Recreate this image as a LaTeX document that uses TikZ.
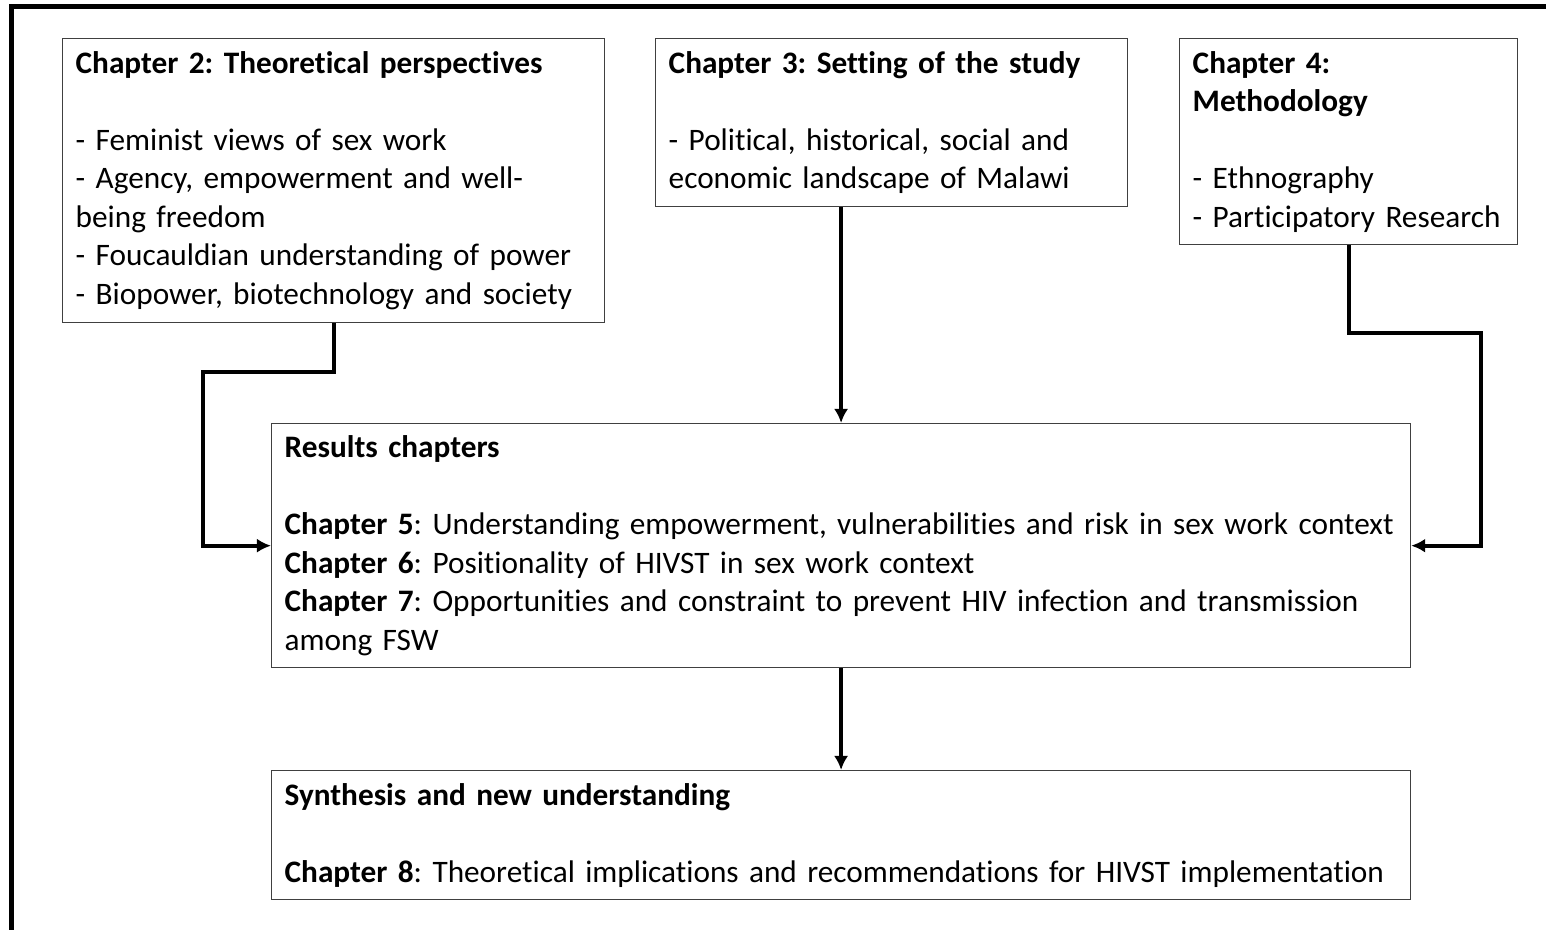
\documentclass[tikz,border=0pt]{standalone}
\usepackage{fontspec}
\setmainfont{Carlito}[Ligatures=NoCommon]
\usetikzlibrary{arrows.meta,positioning}
\tikzset{
  chapbox/.style={draw=black!75, line width=0.8pt, anchor=north west, align=left,
    inner xsep=0.26cm, inner ysep=0pt, font=\fontsize{17.8}{21.9}\selectfont\frenchspacing},
  link/.style={line width=2.3pt, -{Latex[length=8pt,width=8pt]}}
}
\begin{document}
\begin{tikzpicture}[x=0.02cm,y=-0.02cm]
\useasboundingbox (0,0) rectangle (1546,930);
\draw[line width=2.6pt] (11.5,930) -- (11.5,6.5) -- (1546,6.5);

\node[chapbox, text width=10.32cm, minimum height=5.68cm] (ch2) at (62,38)
  {\textbf{Chapter 2: Theoretical perspectives}\\[21.9pt]
   - Feminist views of sex work\\
   - Agency, empowerment and well-\\
   being freedom\\
   - Foucauldian understanding of power\\
   - Biopower, biotechnology and society};
\node[chapbox, text width=8.92cm, minimum height=3.36cm] (ch3) at (655,38)
  {\textbf{Chapter 3: Setting of the study}\\[21.9pt]
   - Political, historical, social and\\
   economic landscape of Malawi};
\node[chapbox, text width=6.24cm, minimum height=4.12cm] (ch4) at (1179,38)
  {\textbf{Chapter 4:}\\
   \textbf{Methodology}\\[21.9pt]
   - Ethnography\\
   - Participatory Research};
\node[chapbox, text width=22.26cm, minimum height=4.88cm] (results) at (271,423)
  {\textbf{Results chapters}\\[21.9pt]
   \textbf{Chapter 5}: Understanding empowerment, vulnerabilities and risk in sex work context\\
   \textbf{Chapter 6}: Positionality of HIVST in sex work context\\
   \textbf{Chapter 7}: Opportunities and constraint to prevent HIV infection and transmission\\
   among FSW};
\node[chapbox, text width=22.26cm, minimum height=2.58cm] (synth) at (271,770)
  {\textbf{Synthesis and new understanding}\\[21.9pt]
   \textbf{Chapter 8}: Theoretical implications and recommendations for HIVST implementation};

\coordinate (bendL) at (203,372);
\coordinate (bendR) at (1481,333);
\draw[link] (ch2.south) |- (bendL) |- (results.west);
\draw[link] (ch3.south -| results.north) -- (results.north);
\draw[link] (ch4.south) |- (bendR) |- (results.east);
\draw[link] (results.south) -- (synth.north);
\end{tikzpicture}
\end{document}
